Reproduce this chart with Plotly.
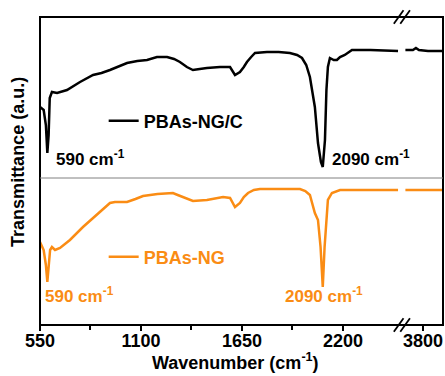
import plotly.graph_objects as go

# FTIR spectra, transmittance in arbitrary units (offset vertically)
wn_ngc = [550, 570, 582, 590, 597, 603, 615, 643, 697, 768, 839, 885, 931, 980, 1024, 1080,
          1133, 1187, 1242, 1280, 1312, 1350, 1383, 1420, 1459, 1530, 1585, 1612, 1639, 1660,
          1677, 1700, 1721, 1786, 1850, 1911, 1950, 1977, 2000, 2020, 2047, 2064, 2080,
          2090, 2097, 2102, 2110, 2118, 2129, 2150, 2167, 2184, 2210, 2249, 2350, 2450, 2500]
t_ngc = [218, 215, 200, 172, 190, 227, 233, 232, 235, 243, 250, 252, 255, 259, 262, 264,
         265, 268, 268, 266, 263, 258, 255, 256, 257, 258, 258, 250, 253, 258,
         263, 268, 272, 273, 273, 272, 270, 267, 260, 248, 218, 182, 163,
         158, 175, 185, 235, 258, 267, 265, 265, 268, 270, 275, 275, 274, 274]
wn_ngc_hi = [3625, 3700, 3730, 3760, 3850, 4000]
t_ngc_hi = [275, 275, 277, 275, 274, 274]

wn_ng = [550, 570, 582, 590, 598, 605, 615, 632, 659, 713, 784, 860, 900, 931, 958, 1024,
         1070, 1111, 1190, 1274, 1300, 1329, 1383, 1459, 1547, 1585, 1612, 1639, 1660, 1683,
         1715, 1748, 1850, 1966, 1995, 2020, 2047, 2064, 2078, 2090, 2100, 2118, 2140, 2184,
         2300, 2400, 2500]
t_ng = [83, 75, 60, 43, 60, 75, 78, 75, 77, 85, 98, 110, 117, 122, 123, 123,
        126, 129, 131, 132, 130, 128, 124, 125, 128, 127, 118, 122, 128, 132,
        135, 136, 136, 136, 134, 130, 112, 105, 78, 38, 78, 125, 132, 135,
        135, 135, 135]
wn_ng_hi = [3625, 3750, 3900, 4000]
t_ng_hi = [135, 135, 135, 135]

major_ticks = [550, 1100, 1650, 2200]
minor_ticks = [825, 1375, 1925]
hi_ticks = [3800]
separator_level = 147

BLACK = "#000000"
ORANGE = "#FA8C14"
FONT = "Liberation Sans, Arial, sans-serif"
BREAK = 0.898
LW = 2.5

fig = go.Figure()
fig.add_trace(go.Scatter(x=wn_ngc, y=t_ngc, mode="lines", name="PBAs-NG/C",
                         line=dict(color=BLACK, width=LW), legend="legend"))
fig.add_trace(go.Scatter(x=wn_ngc_hi, y=t_ngc_hi, mode="lines", showlegend=False,
                         line=dict(color=BLACK, width=LW), xaxis="x2"))
fig.add_trace(go.Scatter(x=wn_ng, y=t_ng, mode="lines", name="PBAs-NG",
                         line=dict(color=ORANGE, width=LW), legend="legend2"))
fig.add_trace(go.Scatter(x=wn_ng_hi, y=t_ng_hi, mode="lines", showlegend=False,
                         line=dict(color=ORANGE, width=LW), xaxis="x2"))

tickfont = dict(family=FONT, size=18, color="black", weight="bold")
axis_common = dict(showgrid=False, zeroline=False, showline=False, ticks="outside",
                   ticklen=5, tickwidth=1.5, tickcolor="black", tickfont=tickfont,
                   anchor="y", ticklabelstandoff=-6)

annots = [
    dict(x=626, y=167, text="590 cm<sup>-1</sup>", color=BLACK),
    dict(x=2129, y=167, text="2090 cm<sup>-1</sup>", color=BLACK),
    dict(x=566, y=30, text="590 cm<sup>-1</sup>", color=ORANGE),
    dict(x=1873, y=30, text="2090 cm<sup>-1</sup>", color=ORANGE),
]
annotations = [dict(x=a["x"], y=a["y"], xref="x", yref="y", text=a["text"], showarrow=False,
                    xanchor="left", yanchor="middle",
                    font=dict(family=FONT, size=17, color=a["color"], weight="bold"))
               for a in annots]
annotations += [
    dict(x=0.484, y=-0.12, xref="paper", yref="paper", text="Wavenumber (cm<sup>-1</sup>)",
         showarrow=False, xanchor="center", yanchor="middle",
         font=dict(family=FONT, size=18, color="black", weight="bold")),
    dict(x=-0.055, y=0.529, xref="paper", yref="paper", text="Transmittance (a.u.)",
         showarrow=False, textangle=-90, xanchor="center", yanchor="middle",
         font=dict(family=FONT, size=18, color="black", weight="bold")),
]

shapes = [
    # plot frame
    dict(type="rect", xref="paper", yref="paper", x0=0, x1=1, y0=0, y1=1,
         line=dict(color="black", width=2)),
    # separator between the two spectra
    dict(type="line", xref="paper", yref="y", x0=0, x1=1, y0=separator_level, y1=separator_level,
         line=dict(color="#808080", width=1)),
]
# axis-break marks on the top and bottom frame
for yb in (0, 1):
    for dx in (-0.008, 0.008):
        shapes.append(dict(type="line", xref="paper", yref="paper",
                           x0=BREAK + dx - 0.012, x1=BREAK + dx + 0.012,
                           y0=yb - 0.022, y1=yb + 0.022,
                           line=dict(color="black", width=1.8)))

legend_common = dict(bgcolor="rgba(0,0,0,0)", xanchor="left", yanchor="middle",
                     font=dict(family=FONT, size=18, weight="bold"),
                     itemwidth=30, tracegroupgap=0)

fig.update_layout(
    width=445, height=376,
    margin=dict(l=40, r=2, t=17, b=51),
    paper_bgcolor="white", plot_bgcolor="white",
    xaxis=dict(domain=[0, BREAK], range=[550, 2521], tickvals=major_ticks,
               minor=dict(tickvals=minor_ticks, ticks="outside", ticklen=4,
                          tickwidth=1.5, tickcolor="black"),
               **axis_common),
    xaxis2=dict(domain=[BREAK, 1], range=[3590, 4000], tickvals=hi_ticks, **axis_common),
    yaxis=dict(range=[0, 308], showticklabels=False, showgrid=False, zeroline=False,
               showline=False, ticks=""),
    legend=dict(x=0.158, y=0.662, font_color=BLACK, **legend_common),
    legend2=dict(x=0.158, y=0.221, font_color=ORANGE, **legend_common),
    annotations=annotations,
    shapes=shapes,
)

fig.write_html("out.html")
